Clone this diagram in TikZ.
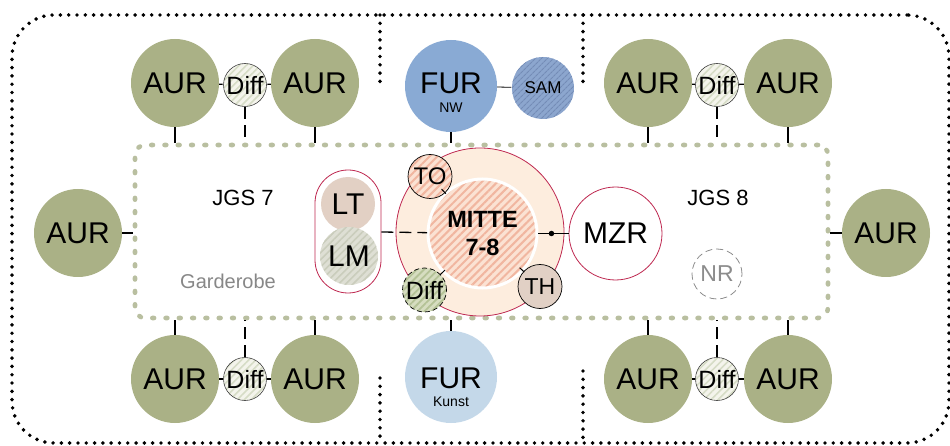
\documentclass[tikz,border=0pt]{standalone}
\usepackage{fontspec}
\setmainfont{Liberation Sans}
\usetikzlibrary{patterns.meta}
\definecolor{aurgreen}{RGB}{170,177,134}
\definecolor{furnw}{RGB}{137,170,212}
\definecolor{furk}{RGB}{196,216,233}
\definecolor{sambase}{RGB}{140,166,206}
\definecolor{samstripe}{RGB}{116,140,182}
\definecolor{crim}{RGB}{190,40,80}
\definecolor{mitteouter}{RGB}{253,237,222}
\definecolor{salmonbase}{RGB}{251,226,211}
\definecolor{salmonstripe}{RGB}{241,182,160}
\definecolor{thcol}{RGB}{225,208,197}
\definecolor{ltcol}{RGB}{226,208,196}
\definecolor{diffbase}{RGB}{244,244,236}
\definecolor{diffstripe}{RGB}{214,220,198}
\definecolor{lmbase}{RGB}{222,223,212}
\definecolor{lmstripe}{RGB}{202,205,188}
\definecolor{mdiffbase}{RGB}{214,221,192}
\definecolor{mdiffstripe}{RGB}{180,194,150}
\definecolor{gdot}{RGB}{185,191,160}
\definecolor{nrgray}{RGB}{140,140,140}
\definecolor{gardgray}{RGB}{135,135,135}
\begin{document}
\begin{tikzpicture}[x=1pt,y=-1pt,
  outerdots/.style={black, line width=3.9pt, line cap=round, dash pattern=on 0pt off 8.3pt},
  gdots/.style={draw=gdot, line width=4.6pt, line cap=round, dash pattern=on 1.8pt off 11.5pt},
  conn/.style={black, line width=1.3pt},
  dconn/.style={black, line width=1.3pt, dash pattern=on 12pt off 6pt},
  aur/.style={circle, fill=aurgreen, minimum size=88pt, inner sep=0pt, font=\fontsize{30}{30}\selectfont},
  diffc/.style={circle, draw=black!75, line width=0.6pt, minimum size=43pt, inner sep=0pt,
    preaction={fill=diffbase}, pattern={Lines[angle=45,distance=5pt,line width=1.6pt]}, pattern color=diffstripe,
    font=\fontsize{25}{25}\selectfont},
  small/.style={circle, draw=black, line width=0.7pt, minimum size=44pt, inner sep=0pt, font=\fontsize{24}{24}\selectfont},
  lbl/.style={inner sep=0pt, font=\fontsize{22}{22}\selectfont}
]
\useasboundingbox (0,0) rectangle (950,446);

% zones
\node[draw, outerdots, rounded corners=42pt, minimum width=937pt, minimum height=428pt, inner sep=0pt] (outer) at (480.5,229) {};
\coordinate (d1t) at (380,15); \coordinate (d1b) at (380,83);
\coordinate (d2t) at (583,15); \coordinate (d2b) at (583,83);
\coordinate (d3t) at (380,378); \coordinate (d3b) at (380,443);
\coordinate (d4t) at (583,371); \coordinate (d4b) at (583,443);
\draw[outerdots] (d1t) -- (d1b);
\draw[outerdots] (d2t) -- (d2b);
\draw[outerdots] (d3t) -- (d3b);
\draw[outerdots] (d4t) -- (d4b);

\node[gdots, rounded corners=10pt, minimum width=693pt, minimum height=173pt, inner sep=0pt] (zone) at (481.5,231.5) {};

% texts
\node[lbl] (jgs7) at (243,198) {JGS 7};
\node[lbl] (jgs8) at (718,198) {JGS 8};
\node[lbl, text=gardgray, font=\fontsize{20}{20}\selectfont] (gard) at (228,281) {Garderobe};
\node[circle, draw=nrgray, line width=0.8pt, dash pattern=on 7pt off 4pt, minimum size=50pt, inner sep=0pt, text=nrgray, font=\fontsize{23}{23}\selectfont] (nr) at (717,274) {NR};

% AUR groups top
\node[aur] (atl1) at (175,83) {AUR};
\node[aur] (atl2) at (315,83) {AUR};
\node[diffc] (dtl) at (245,85) {Diff};
\node[aur] (atr1) at (648,83) {AUR};
\node[aur] (atr2) at (788,83) {AUR};
\node[diffc] (dtr) at (717,85) {Diff};
% AUR groups bottom
\node[aur] (abl1) at (175,379) {AUR};
\node[aur] (abl2) at (315,379) {AUR};
\node[diffc] (dbl) at (245,379) {Diff};
\node[aur] (abr1) at (648,379) {AUR};
\node[aur] (abr2) at (788,379) {AUR};
\node[diffc] (dbr) at (717,379) {Diff};
% side AUR
\node[aur] (al) at (78,233) {AUR};
\node[aur] (ar) at (886,233) {AUR};

\foreach \a/\d/\b in {atl1/dtl/atl2, atr1/dtr/atr2, abl1/dbl/abl2, abr1/dbr/abr2}{
  \draw[conn] (\a) -- (\d);
  \draw[conn] (\d) -- (\b);
}
\foreach \n in {atl1,atl2,atr1,atr2}{\draw[conn] (\n) -- (\n |- zone.north);}
\foreach \n in {abl1,abl2,abr1,abr2}{\draw[conn] (\n) -- (\n |- zone.south);}
\foreach \n in {dtl,dtr}{\draw[dconn] (\n) -- (\n |- zone.north);}
\foreach \n in {dbl,dbr}{\draw[dconn] (\n) -- (\n |- zone.south);}
\draw[conn] (al) -- (al -| zone.west);
\draw[conn] (ar) -- (ar -| zone.east);

% FUR
\node[circle, fill=furnw, minimum size=92pt, inner sep=0pt] (fnw) at (451,86) {};
\node[inner sep=0pt, font=\fontsize{30}{30}\selectfont] (fnwt) at (451,83.5) {FUR};
\node[inner sep=0pt, font=\fontsize{14}{14}\selectfont] (fnws) at (451,107.5) {NW};
\node[circle, minimum size=62pt, inner sep=0pt, preaction={fill=sambase}, pattern={Lines[angle=45,distance=4pt,line width=1.2pt]}, pattern color=samstripe, font=\fontsize{17}{17}\selectfont] (sam) at (543,88) {SAM};
\draw[conn, line width=0.8pt] (fnw) -- (sam);
\draw[conn] (fnw) -- (fnw |- zone.north);
\node[circle, fill=furk, minimum size=92pt, inner sep=0pt] (fk) at (451,377) {};
\node[inner sep=0pt, font=\fontsize{30}{30}\selectfont] (fkt) at (451,378.5) {FUR};
\node[inner sep=0pt, font=\fontsize{14}{14}\selectfont, anchor=base] (fks) at (451,406) {Kunst};
\draw[conn] (fk) -- (fk |- zone.south);

% MITTE
\node[circle, draw=crim, line width=0.8pt, fill=mitteouter, minimum size=168pt, inner sep=0pt] (mout) at (480,232) {};
\node[circle, draw=white, line width=3pt, minimum size=109pt, inner sep=0pt,
  preaction={fill=salmonbase}, pattern={Lines[angle=45,distance=5.5pt,line width=2pt]}, pattern color=salmonstripe,
  align=center, font=\bfseries\fontsize{23.5}{28}\selectfont] (inner) at (482.5,233.5) {MITTE\\7-8};

\node[small, preaction={fill=salmonbase}, pattern={Lines[angle=45,distance=5.5pt,line width=2pt]}, pattern color=salmonstripe] (to) at (430,176.5) {TO};
\node[small, fill=thcol, font=\fontsize{23}{23}\selectfont] (th) at (540,286.5) {TH};
\node[small, dash pattern=on 5pt off 3pt, preaction={fill=mdiffbase}, pattern={Lines[angle=45,distance=5pt,line width=1.8pt]}, pattern color=mdiffstripe, font=\fontsize{25}{25}\selectfont] (mdiff) at (424.5,290) {Diff};
\draw[conn, line width=1pt, shorten <=-1pt, shorten >=-5pt] (to) -- (inner);
\draw[conn, line width=1pt, shorten <=-1pt, shorten >=-5pt] (th) -- (inner);
\draw[conn, line width=1pt, shorten <=-1pt, shorten >=-3pt] (mdiff) -- (inner);

% MZR
\node[circle, draw=crim, line width=0.8pt, fill=white, minimum size=93pt, inner sep=0pt, font=\fontsize{30}{30}\selectfont] (mzr) at (615.5,233.5) {MZR};
\draw[conn] (inner) -- (mzr) node[pos=0.44, circle, fill=black, minimum size=5.5pt, inner sep=0pt] (jdot) {};

% LT / LM pill
\node[draw=crim, line width=0.8pt, fill=white, rounded corners=33pt, minimum width=66pt, minimum height=123pt, inner sep=0pt] (pill) at (348,231.5) {};
\node[circle, fill=ltcol, minimum size=54pt, inner sep=0pt, font=\fontsize{30}{30}\selectfont] (lt) at (348,204) {LT};
\node[circle, minimum size=58pt, inner sep=0pt, preaction={fill=lmbase}, pattern={Lines[angle=45,distance=5pt,line width=1.6pt]}, pattern color=lmstripe, font=\fontsize{30}{30}\selectfont] (lm) at (349,256) {LM};
\draw[dconn] (pill) -- (inner);
\end{tikzpicture}
\end{document}
